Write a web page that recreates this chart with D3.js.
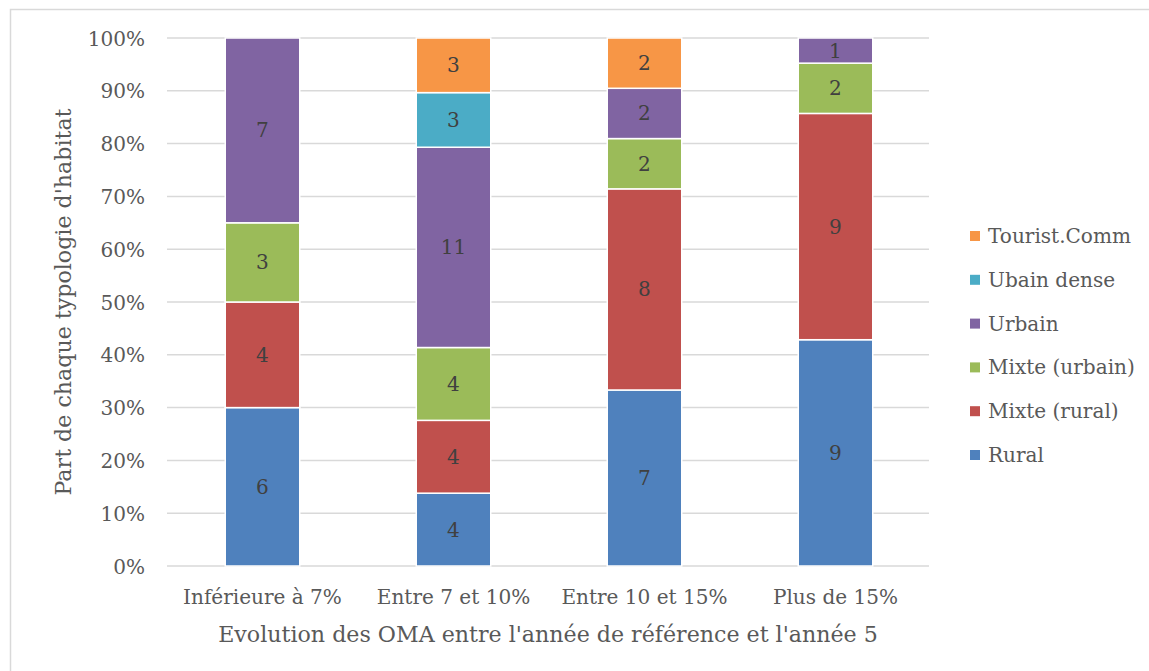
<!DOCTYPE html>
<html><head><meta charset="utf-8">
<script src="https://cdn.jsdelivr.net/npm/d3@7"></script>
<style>body{margin:0;background:#fff}svg{display:block}</style>
</head><body>
<svg id="c" width="1149" height="671"></svg>
<script>
const categories = ["Inférieure à 7%", "Entre 7 et 10%", "Entre 10 et 15%", "Plus de 15%"];
const seriesNames = ["Rural", "Mixte (rural)", "Mixte (urbain)", "Urbain", "Ubain dense", "Tourist.Comm"];
const seriesColors = ["#4f81bd", "#c0504d", "#9bbb59", "#8064a2", "#4bacc6", "#f79646"];
const rural = [6, 4, 7, 9];
const mixteRural = [4, 4, 8, 9];
const mixteUrbain = [3, 4, 2, 2];
const urbain = [7, 11, 2, 1];
const ubainDense = [0, 3, 0, 0];
const touristComm = [0, 3, 2, 0];
const yTicks = [0, 0.1, 0.2, 0.3, 0.4, 0.5, 0.6, 0.7, 0.8, 0.9, 1];
const yTitle = "Part de chaque typologie d'habitat";
const xTitle = "Evolution des OMA entre l'année de référence et l'année 5";

const FONT = "DejaVu Serif";
const svg = d3.select("#c");

// measure helper to pick font sizes
function fitSize(str, target){
  const t = svg.append("text").attr("font-family",FONT).attr("font-size",20).text(str);
  const w = t.node().getComputedTextLength(); t.remove();
  return 20*target/w;
}
const LBL = fitSize("Inférieure à 7%", 159);
const TTL = fitSize(xTitle, 660);

svg.append("rect").attr("x",10.5).attr("y",9.5).attr("width",1200).attr("height",700)
  .attr("fill","none").attr("stroke","#d9d9d9").attr("stroke-width",1.5);

const values = [rural, mixteRural, mixteUrbain, urbain, ubainDense, touristComm];
const table = categories.map((c,i)=>{const o={cat:c}; seriesNames.forEach((s,j)=>o[s]=values[j][i]); return o;});
const stack = d3.stack().keys(seriesNames).offset(d3.stackOffsetExpand);
const layers = stack(table);

const x = d3.scaleBand().domain(categories).range([167, 931]).paddingInner(0.61).paddingOuter(0.305);
const y = d3.scaleLinear().domain([0,1]).range([566, 38]);

svg.append("g").selectAll("line").data(yTicks).join("line")
  .attr("x1",167).attr("x2",929).attr("y1",d=>y(d)).attr("y2",d=>y(d))
  .attr("stroke","#d9d9d9").attr("stroke-width",1.5);

const yAxis = d3.axisLeft(y).tickValues(yTicks).tickFormat(d3.format(".0%")).tickSize(0).tickPadding(0);
const ga = svg.append("g").attr("transform","translate(145,0)").call(yAxis);
ga.select(".domain").remove();
ga.selectAll("text").attr("font-family",FONT).attr("font-size",LBL).attr("fill","#595959").attr("dy","0.35em");

const xAxis = d3.axisBottom(x).tickSize(0).tickPadding(0);
const gx = svg.append("g").attr("transform","translate(0,597)").call(xAxis);
gx.select(".domain").remove();
gx.selectAll("text").attr("font-family",FONT).attr("font-size",LBL).attr("fill","#595959").attr("dy","0.35em");

const g = svg.append("g");
layers.forEach((layer,li)=>{
  g.append("g").selectAll("rect").data(layer.filter(d=>d[1]-d[0]>0)).join("rect")
    .attr("x",d=>x(d.data.cat)).attr("width",x.bandwidth())
    .attr("y",d=>y(d[1])).attr("height",d=>y(d[0])-y(d[1]))
    .attr("fill",seriesColors[li]).attr("stroke","#fff").attr("stroke-width",1.5);
  g.append("g").selectAll("text").data(layer.filter(d=>d[1]-d[0]>0)).join("text")
    .attr("x",d=>x(d.data.cat)+x.bandwidth()/2).attr("y",d=>y((d[0]+d[1])/2))
    .attr("dy","0.35em").attr("text-anchor","middle")
    .attr("font-family",FONT).attr("font-size",LBL).attr("fill","#404040")
    .text(d=>d.data[layer.key]);
});

svg.append("text").attr("transform","translate(63,302) rotate(-90)").attr("text-anchor","middle")
  .attr("font-family",FONT).attr("font-size",TTL).attr("fill","#595959").attr("dy","0.35em").text(yTitle);
svg.append("text").attr("x",548).attr("y",634).attr("text-anchor","middle")
  .attr("font-family",FONT).attr("font-size",TTL).attr("fill","#595959").attr("dy","0.35em").text(xTitle);

const legOrder = seriesNames.map((s,i)=>i).reverse();
const lg = svg.append("g");
legOrder.forEach((si,k)=>{
  const cy = 236 + k*43.8;
  lg.append("rect").attr("x",970).attr("y",cy-5).attr("width",10).attr("height",10).attr("fill",seriesColors[si]);
  lg.append("text").attr("x",988).attr("y",cy).attr("dy","0.35em")
    .attr("font-family",FONT).attr("font-size",LBL).attr("fill","#595959").text(seriesNames[si]);
});
</script>
</body></html>
